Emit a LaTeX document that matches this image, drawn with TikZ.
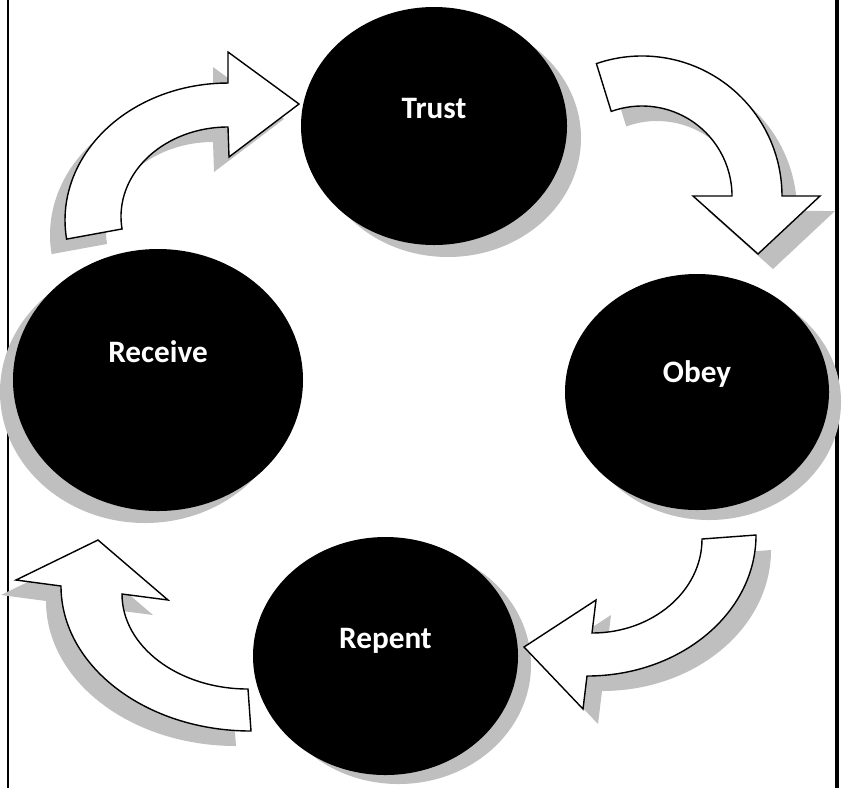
\documentclass[tikz,border=0pt]{standalone}
\usepackage{fontspec}
\setmainfont{Carlito}
\usetikzlibrary{shapes.geometric, calc}

\begin{document}
\begin{tikzpicture}[x=0.5pt, y=0.5pt,
  castshadow/.style={preaction={fill=black!25, draw=none, transform canvas={shift={#1}}}},
  stage/.style={ellipse, fill=black, inner sep=0pt},
  stagelbl/.style={text=white, font=\fontsize{15.6}{18}\selectfont\bfseries, anchor=base, inner sep=0pt},
  bentarrow/.style={fill=white, draw=black, line width=0.7pt, line join=miter}]
  \useasboundingbox (0,0) rectangle (844,-788);
  \draw[line width=1pt] (8,0) -- (8,-788);
  \draw[line width=2pt] (837,0) -- (837,-788);

  \node[stage, castshadow={(14,-12)}, minimum width=133pt, minimum height=119pt] (trust) at (434,-126) {};
  \node[stage, castshadow={(12,-10)}, minimum width=132pt, minimum height=118pt] (obey) at (697,-392) {};
  \node[stage, castshadow={(13,-9)}, minimum width=132.5pt, minimum height=119pt] (repent) at (385.5,-656) {};
  \node[stage, castshadow={(-13,-12)}, minimum width=145pt, minimum height=131pt] (receive) at (158,-380) {};

  \node[stagelbl] (trustlbl) at ($(trust.center)+(0,8)$) {Trust};
  \node[stagelbl] (obeylbl) at ($(obey.center)+(0,10)$) {Obey};
  \node[stagelbl] (repentlbl) at ($(repent.center)+(0,8)$) {Repent};
  \node[stagelbl] (receivelbl) at ($(receive.center)+(0,18)$) {Receive};

  \path[bentarrow, castshadow={(-15,-15)}] (66.6,-239.1) arc[start angle=188, end angle=90, x radius=163, y radius=137]
    -- (228,-52) -- (299,-104) -- (229,-157) -- (228,-127) arc[start angle=90, end angle=188, x radius=107, y radius=89.5] -- cycle;
  \path[bentarrow, castshadow={(15,-15)}] (596.4,-63.6) arc[start angle=109, end angle=0, radius=140]
    -- (820,-196) -- (758,-254) -- (693,-196) -- (732,-196) arc[start angle=0, end angle=110, radius=90] -- cycle;
  \path[bentarrow, castshadow={(15,-15)}] (756,-535) arc[start angle=0, end angle=-90, x radius=169, y radius=141]
    -- (583,-709) -- (524,-647) -- (596,-600) -- (592,-633) arc[start angle=-90, end angle=0, x radius=110, y radius=94] -- cycle;
  \path[bentarrow, castshadow={(-15,-15)}] (251,-731) arc[start angle=-90, end angle=-180, x radius=190, y radius=145]
    -- (16,-580) -- (98,-540) -- (168,-600) -- (122,-594) arc[start angle=180, end angle=270, x radius=126, y radius=95] -- cycle;
\end{tikzpicture}
\end{document}
